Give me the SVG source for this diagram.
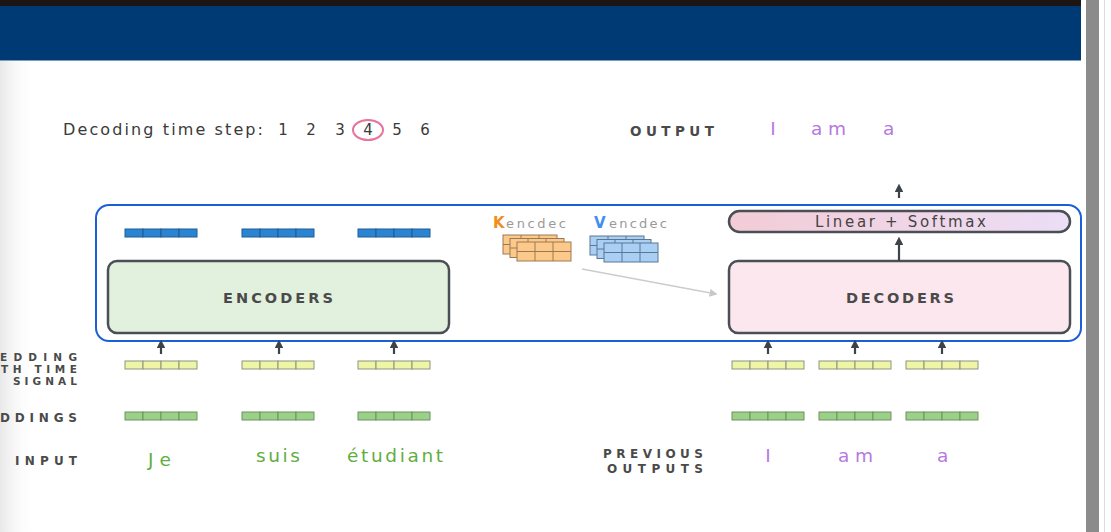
<svg xmlns="http://www.w3.org/2000/svg" width="1111" height="532" viewBox="0 0 1111 532">
<defs>
<style>
.t{font-family:"DejaVu Sans","Open Sans",sans-serif;}
.lab{font-family:"DejaVu Sans","Open Sans",sans-serif;fill:#4a4a4a;font-weight:bold;}
.box{stroke:#4a4f55;stroke-width:2.5;}
.blue{fill:#2a84d2;stroke:#1f5c95;stroke-width:1;}
.yel{fill:#eef5a6;stroke:#8c9480;stroke-width:1;}
.grn{fill:#9bd187;stroke:#6e8f66;stroke-width:1;}
.arr{stroke:#3d4348;stroke-width:2.2;fill:none;}
.grn-w{font-family:"DejaVu Sans","Open Sans",sans-serif;font-size:18.5px;fill:#5fae3f;}
.pur-w{font-family:"DejaVu Sans","Open Sans",sans-serif;font-size:18.5px;fill:#b57ae0;}
.kor{fill:#fdc98a;stroke:#9a7a55;stroke-width:1;}
.vbl{fill:#a9cff5;stroke:#5d7791;stroke-width:1;}
</style>
<marker id="ah" viewBox="0 0 10 10" refX="5" refY="5" markerWidth="4" markerHeight="4" orient="auto-start-reverse">
<path d="M0,0 L10,5 L0,10 z" fill="#3d4348"/>
</marker>
<marker id="gh" viewBox="0 0 10 10" refX="8" refY="5" markerWidth="8" markerHeight="8" orient="auto" markerUnits="userSpaceOnUse">
<path d="M0,0 L10,5 L0,10 z" fill="#c8c8c8"/>
</marker>
<linearGradient id="pill" x1="0" x2="1" y1="0" y2="0">
<stop offset="0" stop-color="#f3ccd6"/>
<stop offset="1" stop-color="#ecdef6"/>
</linearGradient>
<linearGradient id="shade" x1="0" x2="1" y1="0" y2="0">
<stop offset="0" stop-color="#e8e8e8"/>
<stop offset="1" stop-color="#ffffff" stop-opacity="0"/>
</linearGradient>
<g id="vec4"><rect x="0" y="0" width="18" height="8"/><rect x="18" y="0" width="18" height="8"/><rect x="36" y="0" width="18" height="8"/><rect x="54" y="0" width="18" height="8"/></g>
<g id="mat">
<rect x="0" y="0" width="54" height="19"/>
<line x1="18" y1="0" x2="18" y2="19"/><line x1="36" y1="0" x2="36" y2="19"/><line x1="0" y1="9.5" x2="54" y2="9.5"/>
</g>
</defs>
<rect width="1111" height="532" fill="#ffffff"/>
<rect x="0" y="61" width="36" height="471" fill="url(#shade)"/>
<!-- header -->
<rect x="0" y="0" width="1081" height="6" fill="#1b1614"/>
<rect x="0" y="6" width="1081" height="54" fill="#003a75"/>
<rect x="0" y="60" width="1081" height="1" fill="#7d9cbc"/>
<rect x="1086" y="0" width="13" height="532" fill="#8b8b8b"/>
<rect x="1104" y="0" width="1" height="532" fill="#dddddd"/>

<!-- top labels -->
<g id="timestep">
<text class="t" x="63" y="135" font-size="16" fill="#3a3a3a" textLength="200" lengthAdjust="spacing">Decoding time step:</text>
<text class="t" font-size="15" fill="#3a3a3a" text-anchor="middle" y="135"><tspan x="283">1</tspan><tspan x="311">2</tspan><tspan x="340">3</tspan><tspan x="368">4</tspan><tspan x="397">5</tspan><tspan x="425">6</tspan></text>
<ellipse cx="368" cy="130" rx="15" ry="10" fill="none" stroke="#e8739b" stroke-width="2"/>
</g>
<g id="output-row">
<text class="lab" x="630" y="136" font-size="13.5" textLength="84" lengthAdjust="spacing">OUTPUT</text>
<text class="pur-w" x="773" y="135" text-anchor="middle">I</text>
<text class="pur-w" x="811" y="135" textLength="35" lengthAdjust="spacing">am</text>
<text class="pur-w" x="883" y="135">a</text>
</g>

<!-- outer container -->
<g id="container">
<rect x="96" y="205" width="985" height="136" rx="13" fill="none" stroke="#1a5fd8" stroke-width="2"/>
</g>

<g id="encoder-outputs">
<use href="#vec4" x="125" y="229" class="blue"/>
<use href="#vec4" x="242" y="229" class="blue"/>
<use href="#vec4" x="358" y="229" class="blue"/>
</g>

<g id="encoders">
<rect class="box" x="108" y="261" width="341" height="72" rx="9" fill="#e2f0de"/>
<text class="lab" x="223" y="303" font-size="14.5" textLength="110" lengthAdjust="spacing">ENCODERS</text>
</g>

<g id="decoders">
<rect class="box" x="729" y="261" width="341" height="72" rx="9" fill="#fde7ef"/>
<text class="lab" x="846" y="303" font-size="14.5" textLength="108" lengthAdjust="spacing">DECODERS</text>
</g>

<g id="linear-softmax">
<rect class="box" x="729" y="211" width="341" height="21" rx="10.5" fill="url(#pill)"/>
<text class="t" x="815" y="227" font-size="15" fill="#444" textLength="171" lengthAdjust="spacing">Linear + Softmax</text>
</g>

<g id="k-encdec">
<text class="t" x="493" y="228" font-size="15" fill="#f28c1e" font-weight="bold">K</text>
<text class="t" x="506" y="228" font-size="13" fill="#9a9a9a" textLength="60" lengthAdjust="spacing">encdec</text>
<use href="#mat" x="503" y="235" class="kor"/>
<use href="#mat" x="510" y="238.5" class="kor"/>
<use href="#mat" x="517" y="242" class="kor"/>
</g>
<g id="v-encdec">
<text class="t" x="594" y="228" font-size="15" fill="#3f8ff0" font-weight="bold">V</text>
<text class="t" x="609" y="228" font-size="13" fill="#9a9a9a" textLength="58" lengthAdjust="spacing">encdec</text>
<use href="#mat" x="590" y="236" class="vbl"/>
<use href="#mat" x="597" y="239.5" class="vbl"/>
<use href="#mat" x="604" y="243" class="vbl"/>
</g>

<g id="connectors">
<line x1="582" y1="269" x2="716" y2="294" stroke="#cccccc" stroke-width="1.3" marker-end="url(#gh)"/>
<line class="arr" x1="899" y1="198" x2="899" y2="188" marker-end="url(#ah)"/>
<line class="arr" x1="899" y1="261" x2="899" y2="241" marker-end="url(#ah)"/>
<line class="arr" x1="161" y1="354" x2="161" y2="344" marker-end="url(#ah)"/>
<line class="arr" x1="279" y1="354" x2="279" y2="344" marker-end="url(#ah)"/>
<line class="arr" x1="394" y1="354" x2="394" y2="344" marker-end="url(#ah)"/>
<line class="arr" x1="768" y1="354" x2="768" y2="344" marker-end="url(#ah)"/>
<line class="arr" x1="855" y1="354" x2="855" y2="344" marker-end="url(#ah)"/>
<line class="arr" x1="942" y1="354" x2="942" y2="344" marker-end="url(#ah)"/>
</g>

<g id="time-signal-embeddings">
<use href="#vec4" x="125" y="361" class="yel"/>
<use href="#vec4" x="242" y="361" class="yel"/>
<use href="#vec4" x="358" y="361" class="yel"/>
<use href="#vec4" x="732" y="361" class="yel"/>
<use href="#vec4" x="819" y="361" class="yel"/>
<use href="#vec4" x="906" y="361" class="yel"/>
</g>
<g id="embeddings">
<use href="#vec4" x="125" y="412" class="grn"/>
<use href="#vec4" x="242" y="412" class="grn"/>
<use href="#vec4" x="358" y="412" class="grn"/>
<use href="#vec4" x="732" y="412" class="grn"/>
<use href="#vec4" x="819" y="412" class="grn"/>
<use href="#vec4" x="906" y="412" class="grn"/>
</g>

<g id="left-labels">
<text class="lab" x="0" y="361" font-size="10.5" textLength="77" lengthAdjust="spacing">EDDING</text>
<text class="lab" x="1" y="373" font-size="10.5" textLength="76" lengthAdjust="spacing">TH TIME</text>
<text class="lab" x="13" y="385" font-size="10.5" textLength="64" lengthAdjust="spacing">SIGNAL</text>
<text class="lab" x="0" y="422" font-size="12" textLength="77" lengthAdjust="spacing">DDINGS</text>
<text class="lab" x="15" y="465" font-size="12" textLength="62" lengthAdjust="spacing">INPUT</text>
</g>

<g id="input-words">
<text class="grn-w" x="148" y="466" textLength="23" lengthAdjust="spacing">Je</text>
<text class="grn-w" x="256" y="462" textLength="44" lengthAdjust="spacing">suis</text>
<text class="grn-w" x="347" y="462" textLength="96" lengthAdjust="spacing">étudiant</text>
</g>

<g id="previous-outputs">
<text class="lab" x="603" y="458" font-size="12" textLength="100" lengthAdjust="spacing">PREVIOUS</text>
<text class="lab" x="607" y="473" font-size="12" textLength="96" lengthAdjust="spacing">OUTPUTS</text>
<text class="pur-w" x="768" y="462" text-anchor="middle">I</text>
<text class="pur-w" x="838" y="462" textLength="35" lengthAdjust="spacing">am</text>
<text class="pur-w" x="937" y="462">a</text>
</g>
</svg>
